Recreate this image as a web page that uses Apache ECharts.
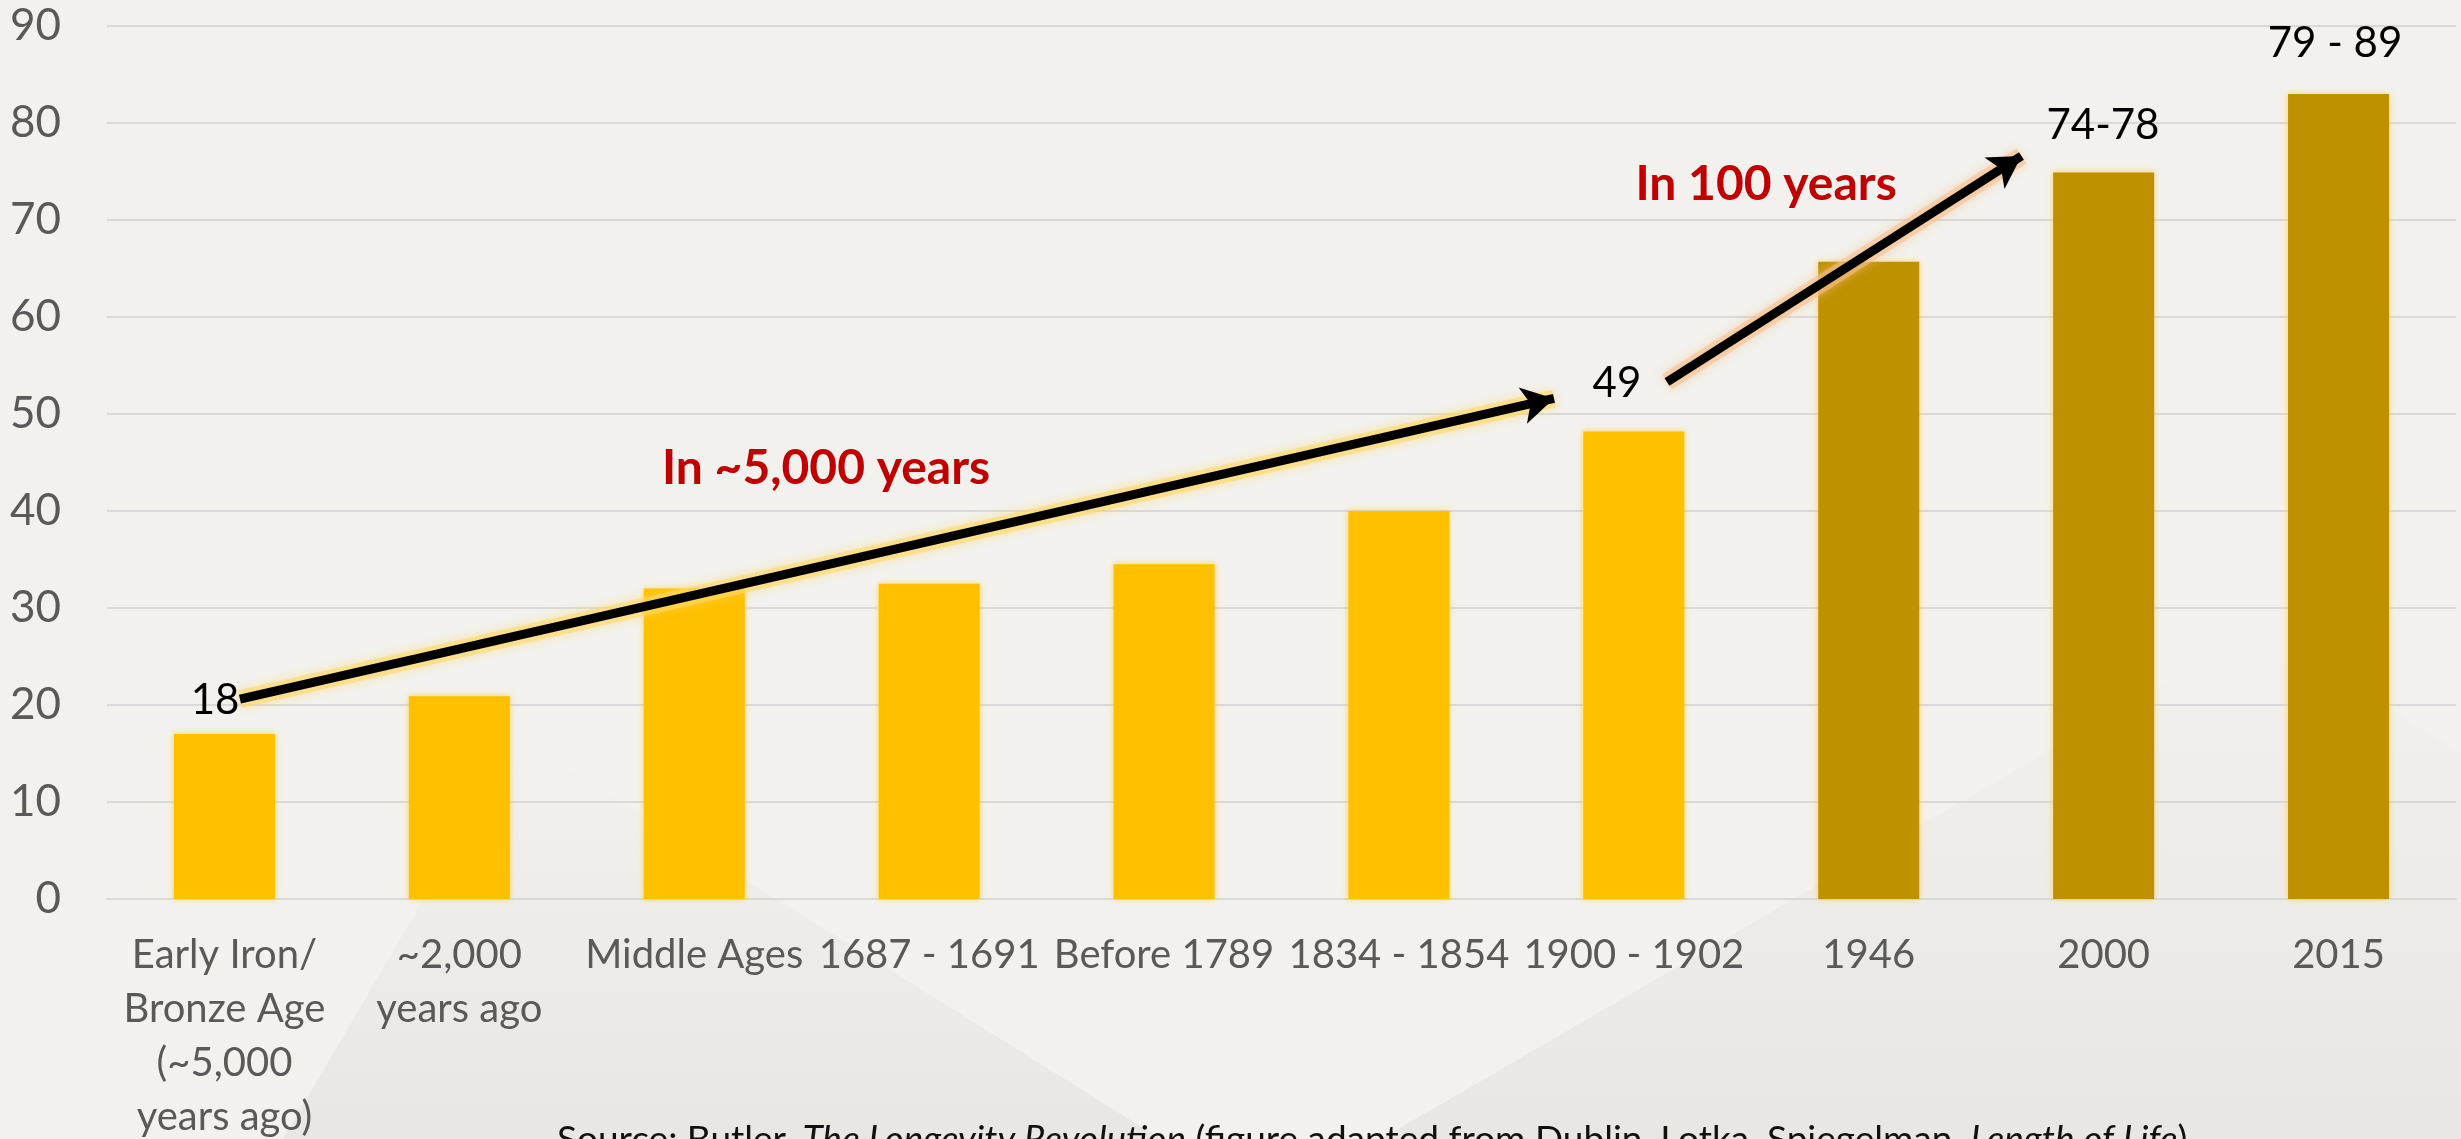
<!DOCTYPE html>
<html>
<head>
<meta charset="utf-8">
<script src="https://cdn.jsdelivr.net/npm/echarts@6/dist/echarts.min.js"></script>
<style>
  html, body { margin: 0; padding: 0; background: #F2F1ED; }
  #chart { width: 2461px; height: 1139px; }
</style>
</head>
<body>
<div id="chart"></div>
<script>
  // data
  const categories = [
    'Early Iron/\nBronze Age\n(~5,000\nyears ago)',
    '~2,000\nyears ago',
    'Middle Ages',
    '1687 - 1691',
    'Before 1789',
    '1834 - 1854',
    '1900 - 1902',
    '1946',
    '2000',
    '2015'
  ]
  const lifeExpectancy = [17.0, 20.9, 32.0, 32.5, 34.5, 40.0, 48.2, 65.7, 74.9, 83.0]
  const modernFrom = 7 // 1946 onwards drawn in dark gold
  const pointLabels = ['18', '49', '74-78', '79 - 89']
  const spanLabels = ['In ~5,000 years', 'In 100 years']
  const sourceNote = 'Source: Butler, {i|The Longevity Revolution} (figure adapted from Dublin, Lotka, Spiegelman, {i|Length of Life})'

  const FONT = 'Lato'
  const chart = echarts.init(document.getElementById('chart'))

  // arrows (hidden linear x axis, y in years)
  const arrow1 = [[0.066, 20.6], [5.66, 51.6]]
  const arrow2 = [[6.141, 53.3], [7.65, 76.6]]

  const glow = (pts, color) => [
    { coord: pts[0], symbol: 'none', lineStyle: { color: color, width: 18, type: 'solid', opacity: 0.55, shadowBlur: 10, shadowColor: color } },
    { coord: pts[1], symbol: 'none' }
  ]
  const arrow = pts => [
    { coord: pts[0], lineStyle: { color: '#000', width: 9, type: 'solid' } },
    { coord: pts[1] }
  ]

  const option = {
    animation: false,
    backgroundColor: '#F2F1ED',
    textStyle: { fontFamily: FONT },
    graphic: [
      // faint decorative background shapes
      {
        type: 'polygon', z: -10, silent: true,
        shape: { points: [[518, 738], [1161, 1139], [283, 1139]] },
        style: {
          fill: new echarts.graphic.LinearGradient(0, 0, 0, 1, [
            { offset: 0, color: 'rgba(0,0,0,0.0)' },
            { offset: 1, color: 'rgba(0,0,0,0.045)' }
          ])
        }
      },
      {
        type: 'polygon', z: -10, silent: true,
        shape: { points: [[2260, 628], [2461, 753], [2461, 1139], [1381, 1139]] },
        style: {
          fill: new echarts.graphic.LinearGradient(0, 0, 0, 1, [
            { offset: 0, color: 'rgba(0,0,0,0.0)' },
            { offset: 1, color: 'rgba(0,0,0,0.045)' }
          ])
        }
      }
    ],
    title: {
      text: sourceNote,
      left: 552,
      top: 1117,
      textStyle: {
        fontFamily: FONT,
        fontSize: 37,
        fontWeight: 'normal',
        color: '#111',
        rich: {
          i: { fontFamily: FONT, fontSize: 37, fontStyle: 'italic', color: '#111' }
        }
      }
    },
    grid: {
      left: 107,
      right: 5,
      top: 26,
      bottom: 240,
      outerBoundsMode: 'none'
    },
    xAxis: [
      {
        type: 'category',
        data: categories,
        axisLine: { lineStyle: { color: '#D9D9D9', width: 2 } },
        axisTick: { show: false },
        axisLabel: {
          interval: 0,
          hideOverlap: false,
          color: '#595959',
          fontFamily: FONT,
          fontSize: 40,
          lineHeight: 54,
          margin: 29
        }
      },
      {
        // hidden linear axis used to place the annotations
        type: 'value',
        min: -0.5,
        max: 9.5,
        show: false
      }
    ],
    yAxis: {
      type: 'value',
      min: 0,
      max: 90,
      interval: 10,
      axisLine: { show: false },
      axisTick: { show: false },
      splitLine: { lineStyle: { color: '#D9D9D9', width: 2 } },
      axisLabel: {
        color: '#595959',
        fontFamily: FONT,
        fontSize: 44,
        margin: 46
      }
    },
    series: [
      {
        type: 'bar',
        data: lifeExpectancy,
        barWidth: '43%',
        itemStyle: {
          color: params => params.dataIndex >= modernFrom ? '#BF9000' : '#FFC000',
          shadowBlur: 6,
          shadowColor: 'rgba(255, 192, 0, 0.6)'
        }
      },
      {
        type: 'line',
        xAxisIndex: 1,
        data: [],
        silent: true,
        markLine: {
          silent: true,
          symbol: ['none', 'arrow'],
          symbolSize: [28, 32],
          label: { show: false },
          data: [
            glow(arrow1, '#FFD966'),
            glow(arrow2, '#F8C08A'),
            arrow(arrow1),
            arrow(arrow2)
          ]
        },
        markPoint: {
          silent: true,
          symbol: 'circle',
          symbolSize: 0,
          label: {
            show: true,
            position: 'inside',
            fontFamily: FONT,
            fontSize: 42,
            color: '#000'
          },
          data: [
            { coord: [-0.04, 20.5], label: { formatter: pointLabels[0] } },
            { coord: [5.928, 53.1], label: { formatter: pointLabels[1] } },
            { coord: [7.997, 79.7], label: { formatter: pointLabels[2] } },
            { coord: [8.985, 88.2], label: { formatter: pointLabels[3] } },
            { coord: [2.561, 44.4], label: { formatter: spanLabels[0], color: '#C00000', fontWeight: 'bold', fontSize: 48 } },
            { coord: [6.563, 73.7], label: { formatter: spanLabels[1], color: '#C00000', fontWeight: 'bold', fontSize: 48 } }
          ]
        }
      }
    ]
  }

  chart.setOption(option)
</script>
</body>
</html>
